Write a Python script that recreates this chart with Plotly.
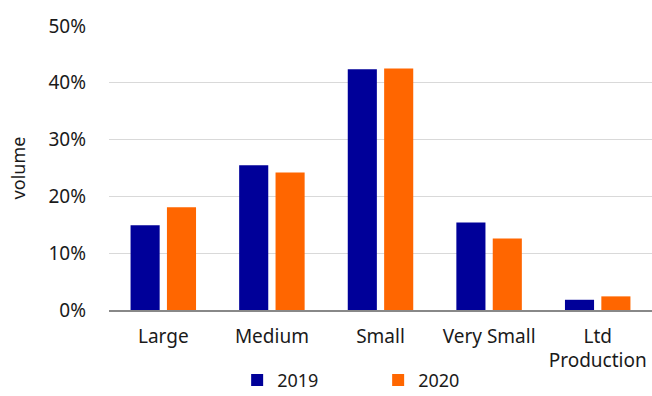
import plotly.graph_objects as go

categories = ["Large", "Medium", "Small", "Very Small", "Ltd<br>Production"]
values_2019 = [0.149, 0.255, 0.424, 0.154, 0.018]
values_2020 = [0.181, 0.242, 0.425, 0.126, 0.024]
series_names = ["2019", "2020"]
colors = ["#000099", "#FF6600"]
y_ticks = [0, 0.1, 0.2, 0.3, 0.4, 0.5]

FONT = "Noto Sans, Open Sans, sans-serif"

fig = go.Figure()
for name, vals, col in zip(series_names, [values_2019, values_2020], colors):
    fig.add_trace(go.Bar(
        x=categories, y=vals, name=name,
        marker=dict(color=col, line=dict(width=0)),
    ))

fig.update_layout(
    width=652, height=396,
    margin=dict(l=109, r=0, t=26, b=86, autoexpand=False),
    paper_bgcolor="white", plot_bgcolor="white",
    font=dict(family=FONT, size=19, color="#1a1a1a"),
    barmode="group", bargap=0.33, bargroupgap=0.2,
    showlegend=True,
    legend=dict(
        orientation="h", x=0.236, xanchor="left", y=-0.182, yanchor="top",
        entrywidth=96, entrywidthmode="pixels",
        font=dict(size=18), itemwidth=30,
        traceorder="normal",
    ),
)
fig.update_yaxes(
    range=[0, 0.5], tickvals=y_ticks, tickformat=".0%",
    showgrid=True, gridcolor="#d9d9d9", gridwidth=1,
    zeroline=False, showline=False, ticks="",
    ticklabelstandoff=22,
    title=dict(text="volume", font=dict(size=18), standoff=18),
)
fig.update_xaxes(
    showline=True, linecolor="#888888", linewidth=1.5,
    ticks="", showgrid=False, tickangle=0,
    ticklabelstandoff=8,
)

fig.write_html("out.html")
